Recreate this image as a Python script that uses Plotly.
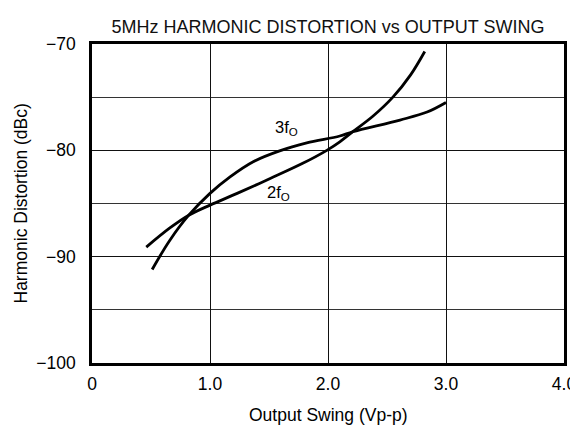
import plotly.graph_objects as go

# Output swing (Vp-p) and harmonic distortion (dBc)
x_2f = [0.46, 0.66, 0.82, 1.0, 1.23, 1.51, 1.79, 1.99, 2.10, 2.21, 2.38, 2.55, 2.70, 2.82]
y_2f = [-89.1, -87.3, -86.1, -85.15, -84.05, -82.65, -81.2, -80.0, -79.2, -78.25, -76.8, -75.0, -72.9, -70.7]

x_3f = [0.51, 0.66, 0.82, 1.0, 1.17, 1.37, 1.59, 1.82, 2.10, 2.21, 2.61, 2.84, 3.0]
y_3f = [-91.2, -88.45, -86.1, -84.05, -82.5, -81.05, -80.05, -79.3, -78.65, -78.25, -77.15, -76.4, -75.5]

x_ticks = [0, 1, 2, 3, 4]
x_tick_labels = ["0", "1.0", "2.0", "3.0", "4.0"]
y_ticks = [-100, -90, -80, -70]
y_tick_labels = ["\u2212100", "\u221290", "\u221280", "\u221270"]

label_3f = {"x": 1.65, "y": -77.9, "text": "3f<sub>O</sub>"}
label_2f = {"x": 1.58, "y": -84.0, "text": "2f<sub>O</sub>"}

x_title = "Output Swing (Vp-p)"
y_title = "Harmonic Distortion (dBc)"
chart_title = "5MHz HARMONIC DISTORTION vs OUTPUT SWING"

FONT = "Liberation Sans, Arial, sans-serif"

# page body has an 8px margin, so the figure is sized to fit the 578x426 window
W, H = 570, 418

fig = go.Figure()
fig.add_trace(go.Scatter(x=x_2f, y=y_2f, mode="lines",
                         line=dict(color="black", width=2.8, shape="spline", smoothing=1.0),
                         showlegend=False, hoverinfo="skip"))
fig.add_trace(go.Scatter(x=x_3f, y=y_3f, mode="lines",
                         line=dict(color="black", width=2.8, shape="spline", smoothing=1.0),
                         showlegend=False, hoverinfo="skip"))

for lab in (label_3f, label_2f):
    fig.add_annotation(x=lab["x"], y=lab["y"], text=lab["text"], showarrow=False,
                       xanchor="center", yanchor="middle",
                       font=dict(family=FONT, size=16.5, color="black"))

# axis titles
fig.add_annotation(x=0.5, y=0, xref="paper", yref="paper", text=x_title,
                   showarrow=False, xanchor="center", yanchor="middle", yshift=-52,
                   font=dict(family=FONT, size=17.5, color="black"))
fig.add_annotation(x=0, y=0.5, xref="paper", yref="paper", text=y_title,
                   showarrow=False, xanchor="center", yanchor="middle", xshift=-72,
                   textangle=-90, font=dict(family=FONT, size=17.5, color="black"))

fig.update_layout(
    width=W, height=H,
    margin=dict(l=84, r=14, t=36, b=63),
    paper_bgcolor="white", plot_bgcolor="white",
    font=dict(family=FONT, size=17, color="black"),
    title=dict(text=chart_title,
               x=0.5, xref="paper", xanchor="center",
               y=1 - 19 / H, yref="container", yanchor="middle",
               font=dict(family=FONT, size=18, color="#111")),
    xaxis=dict(range=[0, 4], tickvals=x_ticks, ticktext=x_tick_labels,
               showgrid=True, gridcolor="#111", gridwidth=1.3,
               showline=True, linecolor="black", linewidth=2.5, mirror=True,
               ticks="", ticklabelstandoff=3, zeroline=False, automargin=False,
               tickfont=dict(family=FONT, size=17.5)),
    yaxis=dict(range=[-100, -70], tickvals=y_ticks, ticktext=y_tick_labels,
               showgrid=True, gridcolor="#111", gridwidth=1.3,
               minor=dict(dtick=5, tick0=-100, showgrid=True, gridcolor="#333", gridwidth=1.2),
               showline=True, linecolor="black", linewidth=2.5, mirror=True,
               ticks="", ticklabelstandoff=10, zeroline=False, automargin=False,
               tickfont=dict(family=FONT, size=17.5)),
)

fig.write_html("out.html")
